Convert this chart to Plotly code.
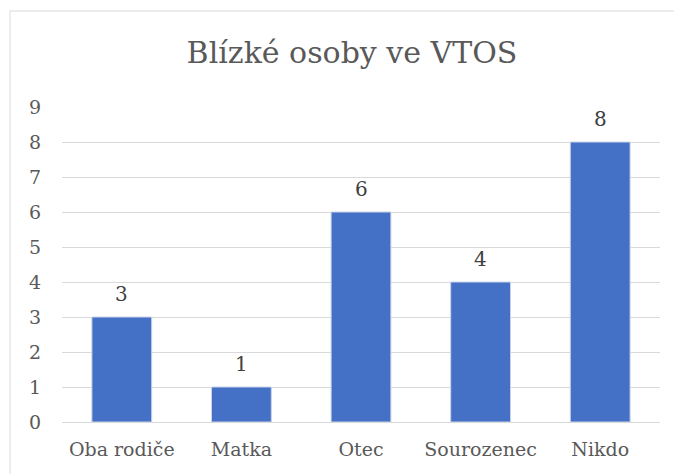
import plotly.graph_objects as go

categories = ["Oba rodiče", "Matka", "Otec", "Sourozenec", "Nikdo"]
values = [3, 1, 6, 4, 8]
y_ticks = list(range(0, 10))
title_text = "Blízké osoby ve VTOS"

FONT = "DejaVu Serif"
TXT = "#595959"

# The page body adds an 8px offset; margins compensate so the plot area
# lands at x 62..660, y 107..422 in the 682x474 window.
fig = go.Figure(
    go.Bar(
        x=categories,
        y=values,
        marker=dict(color="#4470C6", line=dict(color="#C9D3E8", width=1)),
        width=0.5,
    )
)

for c, v in zip(categories, values):
    fig.add_annotation(
        x=c,
        y=v,
        text=str(v),
        showarrow=False,
        yanchor="bottom",
        yshift=9,
        font=dict(family=FONT, size=20, color="#404040"),
    )

fig.update_layout(
    width=682,
    height=474,
    margin=dict(l=54, r=30, t=99, b=60),
    paper_bgcolor="white",
    plot_bgcolor="white",
    showlegend=False,
    title=dict(
        text=title_text,
        x=(54 + 290) / 682,
        xanchor="center",
        y=1 - 44 / 474,
        yanchor="middle",
        font=dict(family=FONT, size=30, color=TXT),
    ),
    xaxis=dict(
        showgrid=False,
        showline=True,
        linecolor="#D9D9D9",
        linewidth=1,
        tickfont=dict(family=FONT, size=19, color=TXT),
        ticks="",
        ticklabelstandoff=10,
    ),
    yaxis=dict(
        range=[0, 9],
        tickvals=y_ticks,
        showgrid=True,
        gridcolor="#D9D9D9",
        gridwidth=1,
        zeroline=False,
        showline=False,
        tickfont=dict(family=FONT, size=19, color=TXT),
        ticklabelstandoff=20,
        ticks="",
    ),
    shapes=[
        dict(
            type="rect",
            xref="paper",
            yref="paper",
            x0=-52 / 598,
            x1=1 + 30 / 598,
            y0=-60 / 315,
            y1=1 + 96 / 315,
            line=dict(color="#D9D9D9", width=1),
            layer="below",
        )
    ],
)

fig.write_html("out.html")
